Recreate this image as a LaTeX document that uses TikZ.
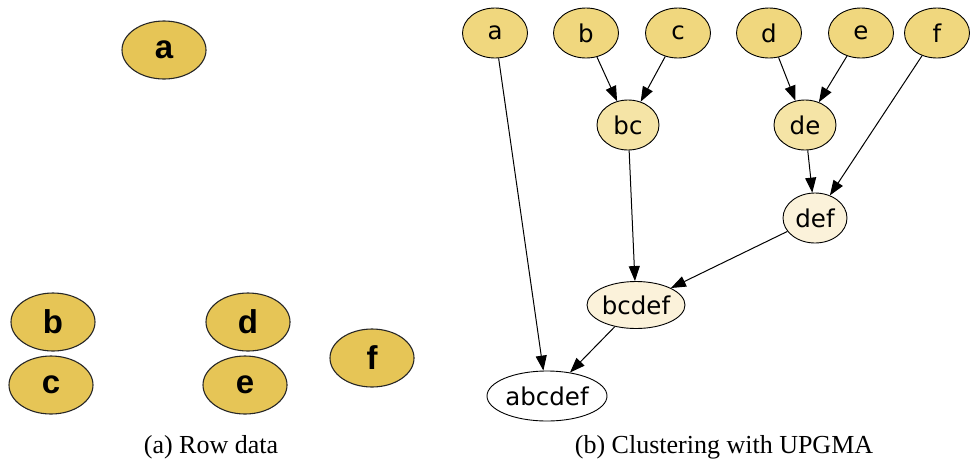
\documentclass[tikz,border=0pt]{standalone}
\usepackage{fontspec}
\setmainfont{Liberation Serif}
\newfontfamily\boldsans{Liberation Sans}
\newfontfamily\gvsans{DejaVu Sans}
\usetikzlibrary{shapes.geometric,arrows.meta}
\definecolor{leftfill}{HTML}{E6C556}
\definecolor{leaffill}{HTML}{F0D77E}
\definecolor{midfill}{HTML}{F5E4A6}
\definecolor{palefill}{HTML}{FBF2DA}
\tikzset{
  rawnode/.style={ellipse, draw=black!85, line width=1.1pt, fill=leftfill, minimum width=84pt, minimum height=58pt, inner sep=0pt, font=\boldsans\bfseries\fontsize{33}{33}\selectfont},
  gvnode/.style={ellipse, draw=black, line width=0.9pt, inner sep=0pt, minimum height=50pt, font=\gvsans\fontsize{24.5}{24.5}\selectfont},
  leafnode/.style={gvnode, fill=leaffill, minimum width=65pt},
  midnode/.style={gvnode, fill=midfill, minimum width=62pt},
  palenode/.style={gvnode, fill=palefill},
  edge/.style={draw=black, line width=1pt, -{Triangle[length=15pt,width=11pt]}},
  caption/.style={font=\fontsize{26}{26}\selectfont, anchor=base}
}
\begin{document}
\begin{tikzpicture}[x=1pt,y=-1pt]
\useasboundingbox (0,0) rectangle (979,464);
% left panel
\node[rawnode] (la) at (164,50) {a};
\node[rawnode] (lb) at (53,322) {b};
\node[rawnode] (lc) at (51,385) {c};
\node[rawnode] (ld) at (248,322) {d};
\node[rawnode] (le) at (245,385) {e};
\node[rawnode] (lf) at (372,358) {f};
% right panel
\node[leafnode] (a) at (495,33) {a};
\node[leafnode] (b) at (586,33) {b};
\node[leafnode] (c) at (678,33) {c};
\node[leafnode] (d) at (769,33) {d};
\node[leafnode] (e) at (861,33) {e};
\node[leafnode] (f) at (937,33) {f};
\node[midnode] (bc) at (628,125) {bc};
\node[midnode] (de) at (805,125) {de};
\node[palenode, minimum width=64pt] (def) at (815,218) {def};
\node[palenode, minimum width=98pt, minimum height=47pt] (bcdef) at (636,305) {bcdef};
\node[gvnode, fill=white, minimum width=120pt] (abcdef) at (547,396) {abcdef};
\draw[edge] (b) -- (bc);
\draw[edge] (c) -- (bc);
\draw[edge] (d) -- (de);
\draw[edge] (e) -- (de);
\draw[edge] (de) -- (def);
\draw[edge] (f) -- (def);
\draw[edge] (bc) -- (bcdef);
\draw[edge] (def) -- (bcdef);
\draw[edge] (a) -- (abcdef);
\draw[edge] (bcdef) -- (abcdef);
% captions
\node[caption] (capa) at (211,453) {(a) Row data};
\node[caption] (capb) at (724,453) {(b) Clustering with UPGMA};
\end{tikzpicture}
\end{document}
